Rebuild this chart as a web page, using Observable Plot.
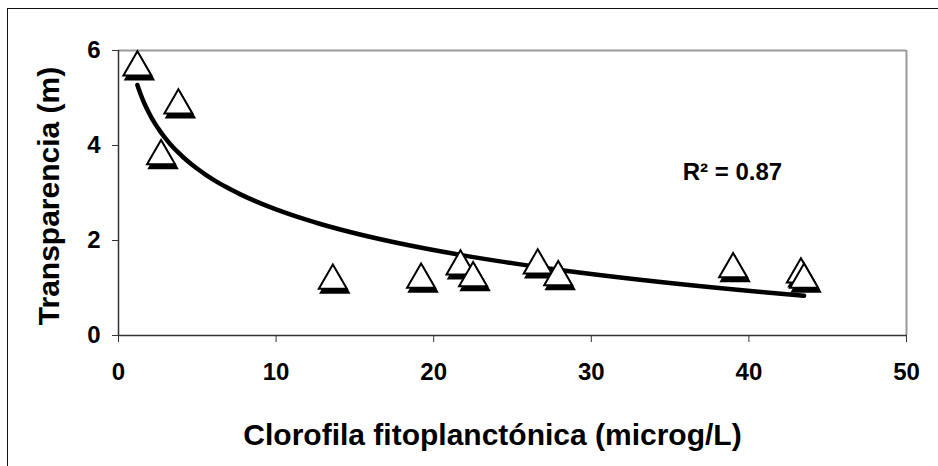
<!DOCTYPE html>
<html>
<head>
<meta charset="utf-8">
<script src="https://cdn.jsdelivr.net/npm/d3@7"></script>
<script src="https://cdn.jsdelivr.net/npm/@observablehq/plot@0.6"></script>
<style>
  html, body { margin: 0; padding: 0; background: #fff; }
  #chart { position: relative; width: 938px; height: 466px; overflow: hidden; }
  #chart .border { position: absolute; left: 7px; top: 8px; right: -4px; bottom: -4px;
    border-left: 1.5px solid #111; border-top: 1.5px solid #111; pointer-events: none; }
  #chart svg { position: absolute; left: 0; top: 0; }
</style>
</head>
<body>
<div id="chart"><div class="border"></div></div>
<script>
// Phytoplankton chlorophyll (µg/L) against water transparency (m)
const chlorophyll  = [1.2, 3.8, 2.7, 13.6, 19.2, 21.7, 22.5, 26.6, 27.9, 39.0, 43.3, 43.5];
const transparency = [5.73, 4.93, 3.86, 1.24, 1.26, 1.54, 1.29, 1.56, 1.31, 1.48, 1.37, 1.26];

const xTicks = [0, 10, 20, 30, 40, 50];
const yTicks = [0, 2, 4, 6];

// Logarithmic trendline: y = intercept + slope * ln(x)
const trendIntercept = 5.50;
const trendSlope = -1.236;
const rSquared = 0.87;

const xTitle = "Clorofila fitoplanctónica (microg/L)";
const yTitle = "Transparencia (m)";

const points = chlorophyll.map((x, i) => ({x, y: transparency[i]}));

const [x0, x1] = d3.extent(chlorophyll);
const trend = d3.range(121).map(i => {
  const x = x0 * Math.pow(x1 / x0, i / 120);
  return {x, y: trendIntercept + trendSlope * Math.log(x)};
});

const font = "'Liberation Sans', Arial, sans-serif";

const chart = Plot.plot({
  width: 938,
  height: 466,
  marginLeft: 118,
  marginRight: 32,
  marginTop: 50,
  marginBottom: 131,
  x: {domain: [0, 50]},
  y: {domain: [0, 6]},
  style: {fontFamily: font, fontWeight: "bold", background: "transparent", color: "#000", overflow: "visible"},
  marks: [
    // plot-area border: grey top and right, dark axes on left and bottom
    Plot.ruleY([6], {stroke: "#9a9a9a", strokeWidth: 2}),
    Plot.ruleX([50], {stroke: "#9a9a9a", strokeWidth: 2}),
    Plot.axisX({ticks: xTicks, tickSize: 7, tickPadding: 20, fontSize: 24, fontWeight: "bold",
      stroke: "#333", fill: "#000", label: null, tickFormat: d => String(d)}),
    Plot.axisY({ticks: yTicks, tickSize: 6, tickPadding: 12, fontSize: 24, fontWeight: "bold",
      stroke: "#333", fill: "#000", label: null, tickFormat: d => String(d)}),
    Plot.ruleX([0], {stroke: "#333", strokeWidth: 1.5}),
    Plot.ruleY([0], {stroke: "#333", strokeWidth: 1.5}),

    // trendline
    Plot.line(trend, {x: "x", y: "y", stroke: "#000", strokeWidth: 4.5, curve: "linear"}),

    // triangle markers with a dark drop shadow
    Plot.dot(points, {x: "x", y: "y", symbol: "triangle", r: 10.4, fill: "#000", stroke: "#000",
      strokeWidth: 2, dx: 2, dy: 8}),
    Plot.dot(points, {x: "x", y: "y", symbol: "triangle", r: 10.4, fill: "#fff", stroke: "#000",
      strokeWidth: 2, dy: 4}),

    // goodness of fit
    Plot.text([`R² = ${rSquared.toFixed(2)}`], {x: 35.8, y: 3.27, textAnchor: "start", lineAnchor: "bottom",
      fontSize: 24, fontWeight: "bold", fill: "#000"}),

    // axis titles
    Plot.text([xTitle], {frameAnchor: "bottom", dx: -20, dy: 109, textAnchor: "middle", lineAnchor: "bottom",
      fontSize: 30, fontWeight: "bold", fill: "#000"}),
    Plot.text([yTitle], {frameAnchor: "left", dx: -69, dy: 3, rotate: -90, textAnchor: "middle",
      lineAnchor: "middle", fontSize: 30, fontWeight: "bold", fill: "#000"})
  ]
});

document.getElementById("chart").appendChild(chart);
</script>
</body>
</html>
